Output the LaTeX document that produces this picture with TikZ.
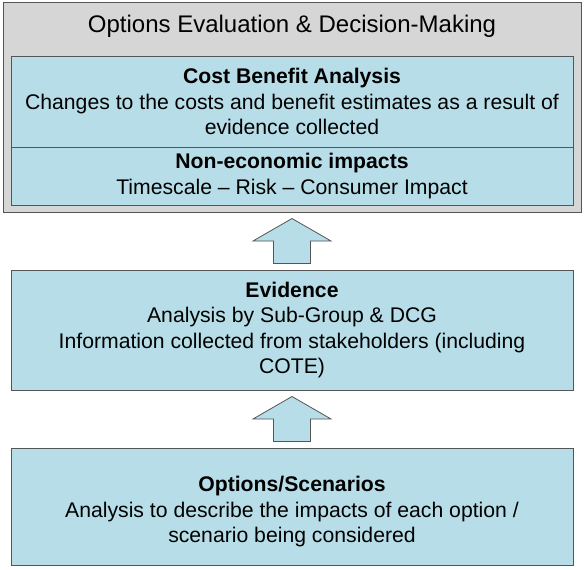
\documentclass[tikz,border=0pt]{standalone}
\usepackage{fontspec}
\setmainfont{Liberation Sans}
\usetikzlibrary{calc}
\definecolor{boxcyan}{HTML}{B7DEE8}
\definecolor{panelgrey}{HTML}{D6D6D6}
\definecolor{edgegrey}{HTML}{555555}
\tikzset{
  panel/.style={draw=edgegrey, fill=panelgrey, line width=0.8pt, minimum width=578pt, minimum height=210pt, inner sep=0pt},
  infobox/.style={draw=edgegrey, fill=boxcyan, line width=0.8pt, minimum width=562pt, align=center, inner sep=0pt,
    font=\fontsize{21.2}{25.5}\selectfont},
  liftarrow/.pic={
    \draw[draw=edgegrey, fill=boxcyan, line width=0.8pt]
      (-18.5,22.5) -- (18.5,22.5) -- (18.5,0) -- (39,0) -- (0,-22.5) -- (-39,0) -- (-18.5,0) -- cycle;
  }
}
\begin{document}
\begin{tikzpicture}[x=1pt, y=-1pt]
		\useasboundingbox (0,0) rectangle (584,570);
		\node[panel] (outer) at (292,107) {};
		\node[font=\fontsize{24}{28}\selectfont] (title) at (292,26) {Options Evaluation \& Decision-Making};
		\node[infobox, minimum height=91pt] (cba) at (292,101.5) {\textbf{Cost Benefit Analysis}\\Changes to the costs and benefit estimates as a result of\\evidence collected};
		\node[infobox, minimum height=58pt] (nei) at (292,176) {\textbf{Non-economic impacts}\\Timescale -- Risk -- Consumer Impact};
		\node[infobox, minimum height=120pt] (evid) at (292,330) {\textbf{Evidence}\\Analysis by Sub-Group \& DCG\\Information collected from stakeholders (including\\COTE)};
		\node[infobox, minimum height=117pt] (opts) at (292,506.5) {\raisebox{-10.5pt}[0pt][0pt]{\parbox{560pt}{\centering\textbf{Options/Scenarios}\\Analysis to describe the impacts of each option /\\scenario being considered}}};
		\coordinate (up1) at ($(outer.south)!0.5!(evid.north)$);
		\coordinate (up2) at ($(evid.south)!0.5!(opts.north)$);
		\pic at (up1) {liftarrow};
		\pic at (up2) {liftarrow};
\end{tikzpicture}
\end{document}
